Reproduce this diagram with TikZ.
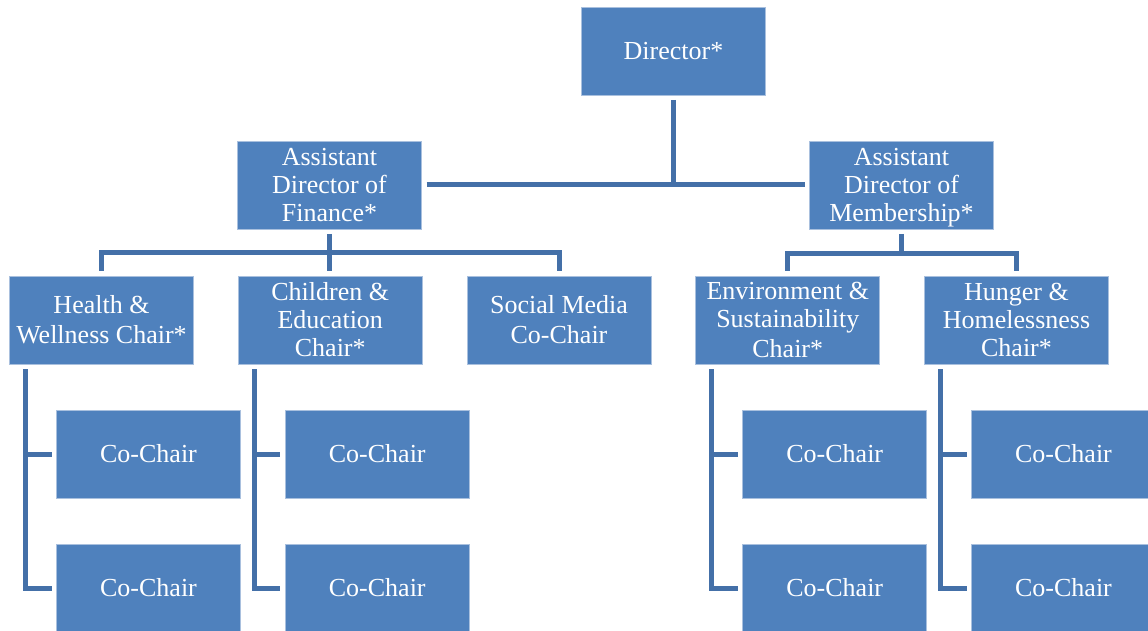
\documentclass[tikz,border=0pt]{standalone}
\usepackage{fontspec}
\setmainfont{Liberation Serif}
\definecolor{boxblue}{HTML}{4F81BD}
\definecolor{boxedge}{HTML}{A9C0DE}
\definecolor{linkblue}{HTML}{4470A8}
\newcommand\rolestrut{\rule[-6pt]{0pt}{29.2pt}}

\begin{document}
\begin{tikzpicture}[x=1pt,y=1pt,node distance=228.75pt,
    role/.style={rectangle,fill=boxblue,draw=boxedge,line width=0.6pt,
      minimum width=184pt,minimum height=88pt,inner sep=0pt,outer sep=5pt,
      text=white,align=center,font=\fontsize{26}{28}\selectfont},
    link/.style={draw=linkblue,line width=5pt}]
  \useasboundingbox (0,0) rectangle (1148,630);

  \node[role] (D) at (673.5,579) {\rolestrut Director*\rolestrut};
  \node[role] (F) at (329.5,445) {\rolestrut Assistant\\Director of\\Finance*\rolestrut};
  \node[role] (M) at (901.5,445) {\rolestrut Assistant\\Director of\\Membership*\rolestrut};

  \node[role] (HW) at (101.5,310)  {\rolestrut Health \&\\Wellness Chair*\rolestrut};
  \node[role] (CE) [right of=HW]   {\rolestrut Children \&\\Education\\Chair*\rolestrut};
  \node[role] (SM) [right of=CE]   {\rolestrut Social Media\\Co-Chair\rolestrut};
  \node[role] (EN) [right of=SM]   {\rolestrut Environment \&\\Sustainability\\Chair*\rolestrut};
  \node[role] (HH) [right of=EN]   {\rolestrut Hunger \&\\Homelessness\\Chair*\rolestrut};

  \draw[link] (D.south) -- (D.south |- F.east);
  \draw[link] (F.east) -- (M.west);

  \draw[link] (F.south) -- (F.south |- CE.north);
  \draw[link] (HW.north) |- ([yshift=-19pt]F.south) -| (SM.north);
  \draw[link] (EN.north) |- ([yshift=-20pt]M.south) -| (HH.north);
  \draw[link] (M.south) -- ++(0,-20pt);

  \foreach \p in {HW,CE,EN,HH} {
    \node[role] (\p1) at ([xshift=47pt,yshift=-134pt]\p.center) {\rolestrut Co-Chair\rolestrut};
    \node[role] (\p2) at ([xshift=47pt,yshift=-268pt]\p.center) {\rolestrut Co-Chair\rolestrut};
    \draw[link] ([xshift=21pt]\p.south west) |- (\p1.west);
    \draw[link] ([xshift=21pt]\p.south west) |- (\p2.west);
  }
\end{tikzpicture}
\end{document}
